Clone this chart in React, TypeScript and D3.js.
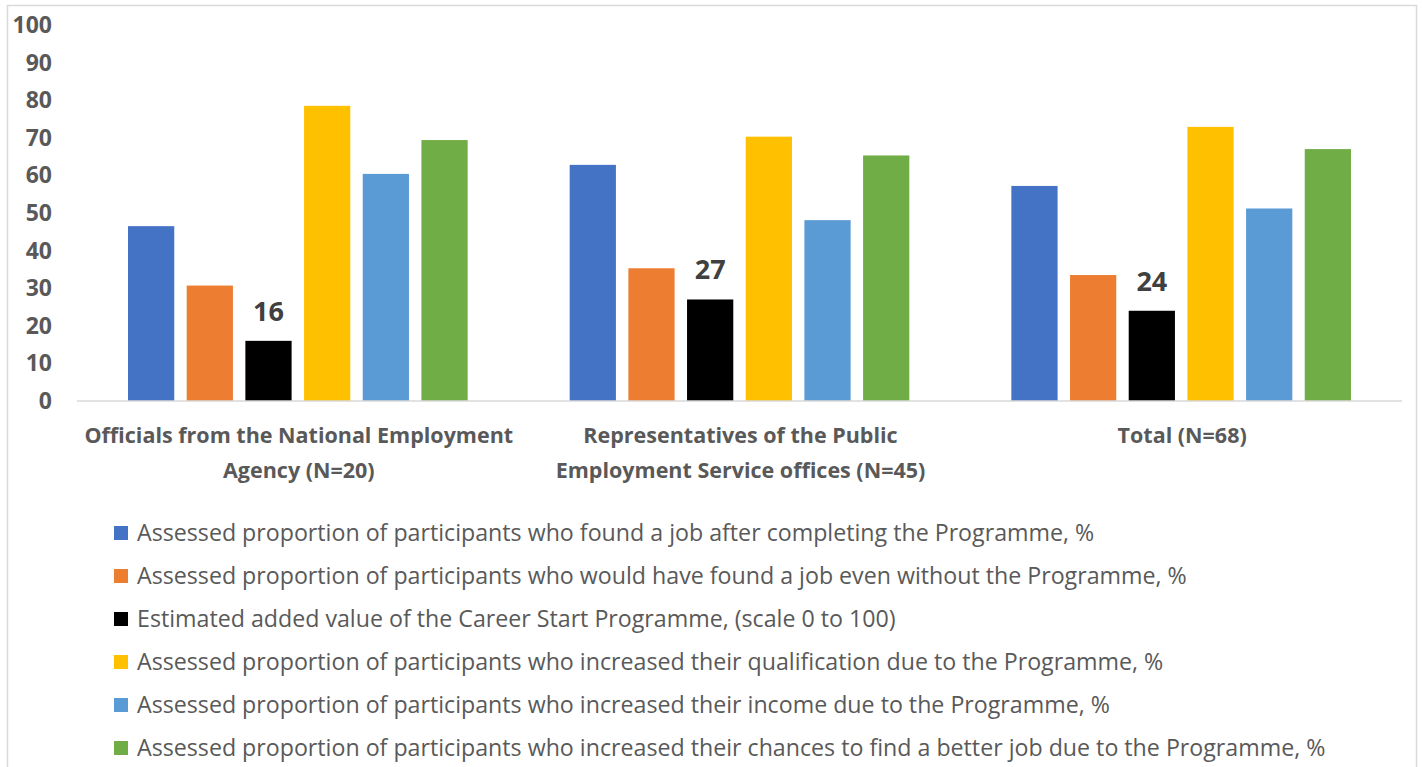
import React from "react";
import * as d3 from "d3";

const categories = [
  ["Officials from the National Employment", "Agency (N=20)"],
  ["Representatives of the Public", "Employment Service offices (N=45)"],
  ["Total (N=68)"],
];
const seriesNames = [
  "Assessed proportion of participants who found a job after completing the Programme, %",
  "Assessed proportion of participants who would have found a job even without the Programme, %",
  "Estimated added value of the Career Start Programme, (scale 0 to 100)",
  "Assessed proportion of participants who increased their qualification due to the Programme, %",
  "Assessed proportion of participants who increased their income due to the Programme, %",
  "Assessed proportion of participants who increased their chances to find a better job due to the Programme, %",
];
const seriesColors = ["#4472C4", "#ED7D31", "#000000", "#FFC000", "#5B9BD5", "#70AD47"];
const foundJob = [46.5, 62.8, 57.2];
const withoutProgramme = [30.7, 35.3, 33.5];
const addedValue = [16, 27, 24];
const qualification = [78.5, 70.3, 72.9];
const income = [60.4, 48.1, 51.2];
const betterJob = [69.4, 65.3, 67.0];
const seriesValues = [foundJob, withoutProgramme, addedValue, qualification, income, betterJob];
const labeledSeries = 2;
const yTicks = [0, 10, 20, 30, 40, 50, 60, 70, 80, 90, 100];

const FONT = "'Open Sans', sans-serif";

export default function App() {
  const W = 1422, H = 767;
  const plotLeft = 77, plotRight = 1402, plotTop = 25, plotBottom = 401;
  const y = d3.scaleLinear().domain([0, 100]).range([plotBottom, plotTop]);
  const x0 = d3.scaleBand<number>().domain(d3.range(categories.length)).range([plotLeft, plotRight]).padding(0);
  const inner = x0.bandwidth() * 0.769;
  const offset = (x0.bandwidth() - inner) / 2;
  const x1 = d3.scaleBand<number>().domain(d3.range(seriesNames.length)).range([offset, offset + inner]).paddingInner(0.212).paddingOuter(0);

  return (
    <svg width={W} height={H} style={{ position: "absolute", left: 0, top: 0, background: "#fff" }} fontFamily={FONT}>
      <rect x={7.5} y={5.5} width={1409} height={H + 10} fill="#fff" stroke="#d9d9d9" strokeWidth={1.5} />
      {yTicks.map((t) => (
        <text key={t} x={52} y={y(t)} dy="0.35em" textAnchor="end" fontSize={23} fontWeight={700} fill="#595959">
          {t}
        </text>
      ))}
      {categories.map((cat, ci) => (
        <g key={ci} transform={`translate(${x0(ci)},0)`}>
          {seriesValues.map((vals, si) => (
            <rect key={si} x={x1(si)} y={y(vals[ci])} width={x1.bandwidth()} height={y(0) - y(vals[ci])} fill={seriesColors[si]} />
          ))}
          <text x={(x1(labeledSeries) as number) + x1.bandwidth() / 2} y={y(seriesValues[labeledSeries][ci]) - 20} textAnchor="middle" fontSize={27} fontWeight={700} fill="#404040">
            {seriesValues[labeledSeries][ci]}
          </text>
          {cat.map((line, li) => (
            <text key={li} x={x0.bandwidth() / 2 + 1} y={443 + li * 35} textAnchor="middle" fontSize={21.5} fontWeight={700} fill="#595959">
              {line}
            </text>
          ))}
        </g>
      ))}
      <line x1={plotLeft} x2={plotRight} y1={plotBottom} y2={plotBottom} stroke="#d9d9d9" strokeWidth={1.5} />
      {seriesNames.map((name, si) => {
        const cy = 533 + si * 43;
        return (
          <g key={si}>
            <rect x={114} y={cy - 7} width={14} height={14} fill={seriesColors[si]} />
            <text x={137} y={cy} dy="0.36em" fontSize={23.2} fill="#595959">
              {name}
            </text>
          </g>
        );
      })}
    </svg>
  );
}
